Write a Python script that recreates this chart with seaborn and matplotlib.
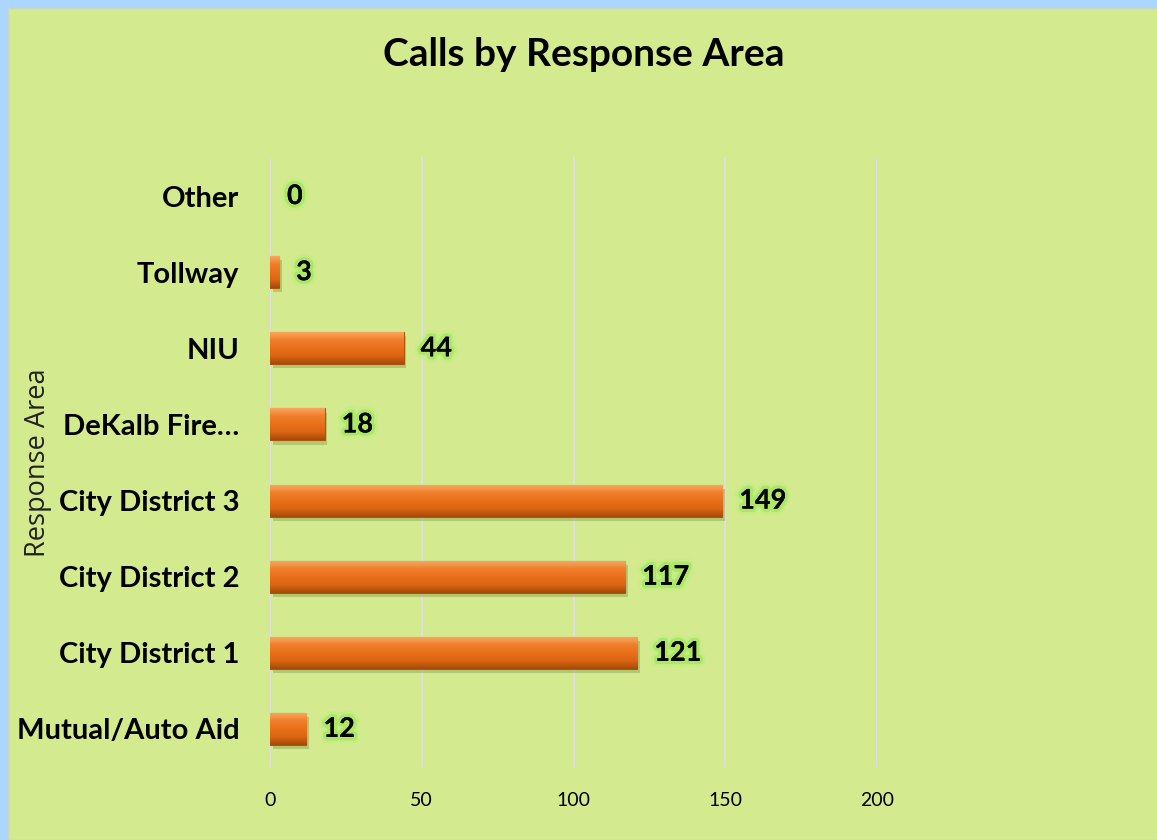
import numpy as np
import pandas as pd
import matplotlib
matplotlib.use("Agg")
import matplotlib.pyplot as plt
import matplotlib.patheffects as pe
from matplotlib.colors import LinearSegmentedColormap
from matplotlib.patches import Rectangle
import seaborn as sns

# Data (top to bottom as displayed)
categories = ["Other", "Tollway", "NIU", "DeKalb Fire…", "City District 3",
              "City District 2", "City District 1", "Mutual/Auto Aid"]
calls = [0, 3, 44, 18, 149, 117, 121, 12]
x_ticks = [0, 50, 100, 150, 200]

title = "Calls by Response Area"
ylabel = "Response Area"

bg_green = "#D3EA8E"
border_blue = "#ABD6FF"

sns.set_theme(style="white")
plt.rcParams["font.family"] = ["Lato", "DejaVu Sans"]

fig = plt.figure(figsize=(11.57, 8.40), dpi=100)
fig.patch.set_facecolor(border_blue)
fig.add_artist(Rectangle((8 / 1157, 0), 1, 1 - 8 / 840, transform=fig.transFigure,
                         facecolor=bg_green, edgecolor="#C8D8C0", linewidth=1.0, zorder=-10))

ax = fig.add_axes([270 / 1157, 1 - 767 / 840, (877 - 270) / 1157, (767 - 158) / 840])
ax.set_facecolor("none")

df = pd.DataFrame({"area": categories, "calls": calls})
sns.barplot(data=df, y="area", x="calls", orient="h", ax=ax, color="#E8711A",
            width=0.42, edgecolor="#B05510", linewidth=0.8, zorder=3)

ax.set_xlim(0, 200)
ax.set_xticks(x_ticks)
ax.set_xticklabels([str(t) for t in x_ticks])
ax.grid(axis="x", color="#DEDEDE", linewidth=1.5, zorder=0)
ax.grid(axis="y", visible=False)
for s in ax.spines.values():
    s.set_visible(False)
ax.tick_params(axis="x", length=0, pad=18, labelsize=14, labelcolor="black")
ax.tick_params(axis="y", length=0, pad=22)
for lbl in ax.get_yticklabels():
    lbl.set_fontweight("bold")
    lbl.set_fontsize(21)
    lbl.set_color("black")

ax.set_xlabel("")
ax.set_ylabel(ylabel, fontsize=19.5, fontweight="normal", color="#222222",
              family=["Open Sans", "DejaVu Sans"])
ax.yaxis.set_label_coords(-(270 - 52) / (877 - 270), 0.5)

# gradient fill on bars
cmap = LinearSegmentedColormap.from_list(
    "bar", ["#F8A55E", "#EF7E2A", "#E8701A", "#DA6512", "#A64A08"])
grad = np.linspace(0, 1, 64).reshape(-1, 1)
for p in ax.patches:
    w = p.get_width()
    if w <= 0:
        p.set_visible(False)
        continue
    x0, y0 = p.get_x(), p.get_y()
    h = p.get_height()
    im = ax.imshow(grad, cmap=cmap, aspect="auto",
                   extent=(x0, x0 + w, y0 + h, y0), zorder=4, interpolation="bilinear")
    im.set_clip_path(p)
    p.set_path_effects([pe.SimplePatchShadow(offset=(2, -3), shadow_rgbFace="#7A8A40", alpha=0.35),
                        pe.Normal()])
ax.set_xlim(0, 200)
ax.set_ylim(len(categories) - 0.5, -0.5)

# value labels with glow
for i, v in enumerate(calls):
    ax.annotate(str(v), xy=(v, i), xytext=(17, 0), textcoords="offset pixels",
                ha="left", va="center", fontsize=19.5, fontweight="bold", color="black",
                zorder=6,
                path_effects=[pe.withStroke(linewidth=9, foreground="#BCEF80", alpha=0.45),
                              pe.withStroke(linewidth=5, foreground="#A6E85E", alpha=0.8),
                              pe.Normal()])

fig.text(584 / 1157, 1 - 55 / 840, title, ha="center", va="center",
         fontsize=28, fontweight="bold", color="black")

fig.savefig("out.png", dpi=100, facecolor=fig.get_facecolor())
